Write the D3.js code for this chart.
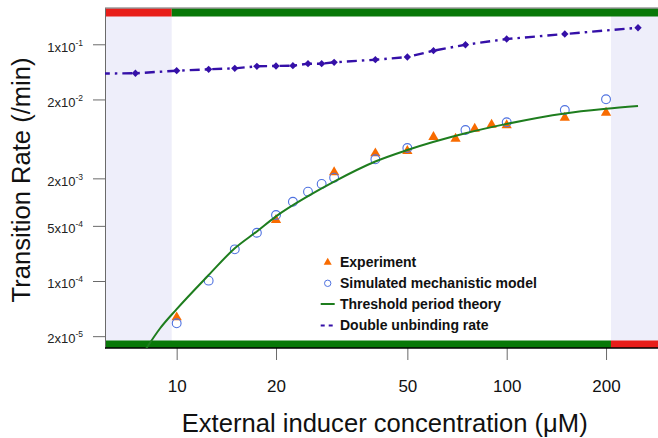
<!DOCTYPE html>
<html>
<head>
<meta charset="utf-8">
<script src="https://cdn.jsdelivr.net/npm/d3@7"></script>
<style>
  html, body { margin: 0; padding: 0; background: #fff; }
  svg { display: block; font-family: "Liberation Sans", Arial, Helvetica, sans-serif; }
</style>
</head>
<body>
<svg id="chart" width="658" height="438"></svg>
<script>
// ---------------- data ----------------
const expConc = [10, 20, 30, 40, 50, 60, 70, 80, 90, 100, 150, 200];
const expRate = [3.46e-5, 5.93e-4, 2.385e-3, 4.15e-3, 4.44e-3, 6.69e-3, 6.36e-3, 8.52e-3, 9.57e-3, 9.40e-3, 1.174e-2, 1.358e-2];

const simConc = [10, 12.5, 15, 17.5, 20, 22.5, 25, 27.5, 30, 40, 50, 75, 100, 150, 200];
const simRate = [2.91e-5, 1.01e-4, 2.52e-4, 4.09e-4, 6.86e-4, 1.01e-3, 1.355e-3, 1.70e-3, 2.04e-3, 3.49e-3, 4.85e-3, 8.2e-3, 1.027e-2, 1.47e-2, 2.01e-2];

const theoryConc = [8.0, 8.9, 10, 12.5, 15, 17.5, 20, 25, 30, 40, 50, 75, 100, 150, 200, 250];
const theoryRate = [1.3e-5, 2.5e-5, 4.4e-5, 1.19e-4, 2.6e-4, 4.25e-4, 6.6e-4, 1.19e-3, 1.82e-3, 3.27e-3, 4.57e-3, 7.45e-3, 9.8e-3, 1.33e-2, 1.52e-2, 1.65e-2];

const unbindConc = [5, 7.5, 10, 12.5, 15, 17.5, 20, 22.5, 25, 27.5, 30, 40, 50, 60, 75, 100, 150, 250];
const unbindRate = [0.0424, 0.0429, 0.0463, 0.0482, 0.0496, 0.0526, 0.0531, 0.0536, 0.0568, 0.0568, 0.0591, 0.0638, 0.069, 0.083, 0.0988, 0.1167, 0.135, 0.1623];

const validRange = [9.66, 207];          // concentrations bounding the shaded regions

const xTicks = [10, 20, 50, 100, 200];
const yTicks = [0.1, 0.02, 0.002, 5e-4, 1e-4, 2e-5];
const yTickMantissa = ["1", "2", "2", "5", "1", "2"];
const yTickExponent = ["-1", "-2", "-3", "-4", "-4", "-5"];

const legendLabels = ["Experiment", "Simulated mechanistic model", "Threshold period theory", "Double unbinding rate"];

// ---------------- layout ----------------
const L = 105, R = 658, T = 8, B = 348;
const svg = d3.select("#chart");

const x = d3.scaleLog().domain([6.065, 287.4]).range([L, R]);
const y = d3.scaleLog().domain([1.416e-5, 0.2884]).range([B, T]);

const COL_EXP = "#f86b00", COL_SIM = "#4f72e0", COL_TH = "#1e7d1e", COL_UB = "#3510a8";
const COL_BAND = "#eeeefa", COL_GREEN = "#087808", COL_RED = "#e81e1a";

svg.append("clipPath").attr("id", "plotclip")
  .append("rect").attr("x", L).attr("y", T).attr("width", R - L).attr("height", B - T);

// shaded bands
svg.append("rect").attr("x", L).attr("y", T).attr("width", x(validRange[0]) - L).attr("height", B - T).attr("fill", COL_BAND);
svg.append("rect").attr("x", x(validRange[1])).attr("y", T).attr("width", R - x(validRange[1])).attr("height", B - T).attr("fill", COL_BAND);

// top bar
svg.append("rect").attr("x", L).attr("y", T + 0.5).attr("width", x(validRange[0]) - L).attr("height", 8).attr("fill", COL_RED);
svg.append("rect").attr("x", x(validRange[0])).attr("y", T + 0.5).attr("width", R - x(validRange[0])).attr("height", 8).attr("fill", COL_GREEN);
// bottom bar
svg.append("rect").attr("x", L).attr("y", B - 7.5).attr("width", x(validRange[1]) - L).attr("height", 7.5).attr("fill", COL_GREEN);
svg.append("rect").attr("x", x(validRange[1])).attr("y", B - 7.5).attr("width", R - x(validRange[1])).attr("height", 7.5).attr("fill", COL_RED);

// axes
const yAxis = d3.axisLeft(y).tickValues(yTicks).tickSize(12).tickSizeOuter(0).tickFormat("");
const gy = svg.append("g").attr("transform", `translate(${L},0)`).call(yAxis);
gy.selectAll("line, path").attr("stroke", "#6a6a6a");
gy.selectAll(".tick").each(function(d, i) {
  const t = d3.select(this).append("text")
    .attr("x", -22).attr("y", 6.8).attr("text-anchor", "end")
    .attr("fill", "#222").attr("font-size", 13);
  t.append("tspan").text(yTickMantissa[i] + "x10");
  t.append("tspan").attr("dy", -6).attr("font-size", 8.5).text(yTickExponent[i]);
});

const xAxis = d3.axisBottom(x).tickValues(xTicks).tickSize(12).tickSizeOuter(0).tickFormat(d3.format("d"));
const gx = svg.append("g").attr("transform", `translate(0,${B})`).call(xAxis);
gx.selectAll("line").attr("stroke", "#6a6a6a");
gx.select("path").remove();
gx.selectAll("text").attr("y", 43.7).attr("dy", 0).attr("font-size", 17).attr("fill", "#111")
  .attr("font-family", "\"Liberation Sans\", Arial, sans-serif");

// frame lines
svg.append("line").attr("x1", L).attr("x2", R).attr("y1", T).attr("y2", T).attr("stroke", "#6a6a6a").attr("stroke-width", 1.2);
svg.append("line").attr("x1", L).attr("x2", R).attr("y1", B).attr("y2", B).attr("stroke", "#000").attr("stroke-width", 1.3);

// data
const plot = svg.append("g").attr("clip-path", "url(#plotclip)");

const tri = d3.symbol().type(d3.symbolTriangle).size(46);
plot.selectAll(".exp").data(expConc).join("path")
  .attr("transform", (d, i) => `translate(${x(d)},${y(expRate[i])})`)
  .attr("d", tri).attr("fill", COL_EXP);

plot.selectAll(".sim").data(simConc).join("circle")
  .attr("cx", d => x(d)).attr("cy", (d, i) => y(simRate[i])).attr("r", 4.4)
  .attr("fill", "none").attr("stroke", COL_SIM).attr("stroke-width", 1.1);

const lineTh = d3.line().x(d => x(d[0])).y(d => y(d[1])).curve(d3.curveMonotoneX);
plot.append("path").datum(theoryConc.map((c, i) => [c, theoryRate[i]]))
  .attr("d", lineTh).attr("fill", "none").attr("stroke", COL_TH).attr("stroke-width", 2);

const lineUb = d3.line().x(d => x(d[0])).y(d => y(d[1]));
plot.append("path").datum(unbindConc.map((c, i) => [c, unbindRate[i]]))
  .attr("d", lineUb).attr("fill", "none").attr("stroke", COL_UB).attr("stroke-width", 2.4)
  .attr("stroke-dasharray", "10,5,2.5,5");
const dia = d3.symbol().type(d3.symbolSquare).size(27);
plot.selectAll(".ub").data(unbindConc).join("path")
  .attr("transform", (d, i) => `translate(${x(d)},${y(unbindRate[i])}) rotate(45)`)
  .attr("d", dia).attr("fill", COL_UB);

// legend
const lg = svg.append("g");
const lgX = 327.7, lgY = [262.5, 283.3, 304, 325.5];
lg.append("path").attr("transform", `translate(${lgX},${lgY[0]})`)
  .attr("d", d3.symbol().type(d3.symbolTriangle).size(28)).attr("fill", COL_EXP);
lg.append("circle").attr("cx", lgX).attr("cy", lgY[1]).attr("r", 3.2)
  .attr("fill", "none").attr("stroke", COL_SIM).attr("stroke-width", 1);
lg.append("line").attr("x1", lgX - 7).attr("x2", lgX + 7).attr("y1", lgY[2]).attr("y2", lgY[2])
  .attr("stroke", COL_TH).attr("stroke-width", 2);
lg.append("line").attr("x1", lgX - 7).attr("x2", lgX + 7).attr("y1", lgY[3]).attr("y2", lgY[3])
  .attr("stroke", COL_UB).attr("stroke-width", 2).attr("stroke-dasharray", "4,4");
lg.selectAll("text").data(legendLabels).join("text")
  .attr("x", 340).attr("y", (d, i) => lgY[i] + 4.8)
  .attr("font-size", 14).attr("font-weight", "bold").attr("fill", "#111")
  .text(d => d);

// axis titles
svg.append("text").attr("x", 384.7).attr("y", 432.3).attr("text-anchor", "middle")
  .attr("font-size", 25.6).attr("fill", "#111").text("External inducer concentration (μM)");
svg.append("text").attr("transform", "translate(29.5,180) rotate(-90)").attr("text-anchor", "middle")
  .attr("font-size", 25.6).attr("fill", "#111").text("Transition Rate (/min)");
</script>
</body>
</html>
